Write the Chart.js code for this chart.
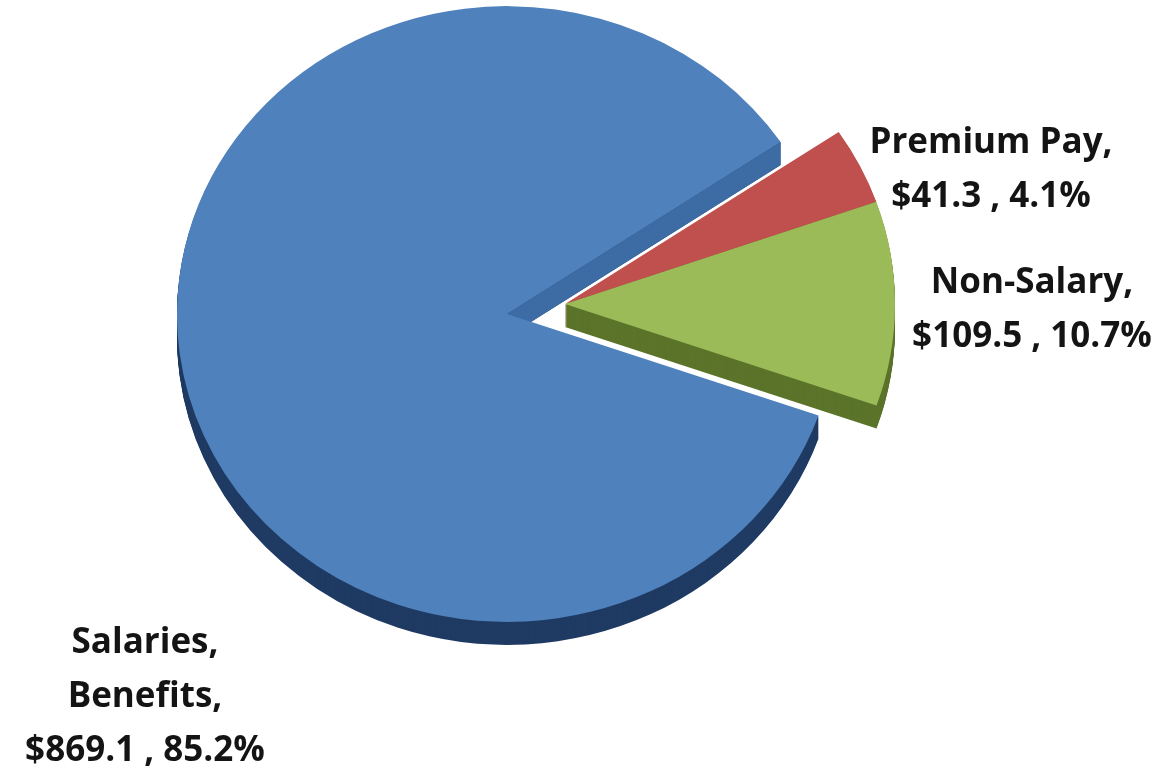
<!DOCTYPE html>
<html>
<head>
<meta charset="utf-8">
<script src="https://cdn.jsdelivr.net/npm/chart.js@4.4.0/dist/chart.umd.min.js"></script>
<style>
  html, body { margin: 0; padding: 0; background: #fff; }
  #wrap { width: 1172px; height: 771px; position: relative; }
</style>
</head>
<body>
<div id="wrap"><canvas id="budget-chart"></canvas></div>
<script>
const categories = ['Salaries, Benefits', 'Premium Pay', 'Non-Salary'];
const amounts = [869.1, 41.3, 109.5];
const percents = [85.2, 4.1, 10.7];

const topColors = ['#4f81bd', '#c0504d', '#9bbb59'];
const sideColors = ['#1f3b63', '#8c3330', '#5b742a'];
const cutFaceColors = ['#3d6ba4', null, null];

// "Salaries, Benefits" -> ["Salaries,", "Benefits,", "$869.1 , 85.2%"]
function labelLines(i) {
  const words = categories[i].split(', ').map(w => w + ',');
  words.push('$' + amounts[i].toFixed(1) + ' , ' + percents[i].toFixed(1) + '%');
  return words;
}

// paints a copy of an arc element in another colour, squashed into an ellipse
function paintArc(ctx, arc, color, dx, dy, o) {
  const copy = Object.assign(Object.create(Object.getPrototypeOf(arc)), arc);
  copy.options = Object.assign({}, arc.options, { backgroundColor: color, borderColor: color });
  ctx.save();
  ctx.translate(dx, o.centerY + dy);
  ctx.scale(1, o.tilt);
  ctx.translate(0, -arc.y);
  copy.draw(ctx);
  ctx.restore();
}

const pie3d = {
  id: 'pie3d',
  beforeDatasetsDraw(chart, args, o) {
    const ctx = chart.ctx;
    const arcs = chart.getDatasetMeta(0).data;
    arcs.forEach((arc, i) => {
      const [sx, sy] = o.shift[i];
      for (let d = o.depth; d >= 1; d--) {
        paintArc(ctx, arc, sideColors[i], sx, sy + d, o);
      }
      if (cutFaceColors[i]) {
        // flat face along the end edge of the slice
        const px = arc.x + sx, py = o.centerY + sy;
        const ex = px + Math.cos(arc.endAngle) * arc.outerRadius;
        const ey = py + Math.sin(arc.endAngle) * arc.outerRadius * o.tilt;
        ctx.save();
        ctx.fillStyle = cutFaceColors[i];
        ctx.beginPath();
        ctx.moveTo(px, py);
        ctx.lineTo(ex, ey);
        ctx.lineTo(ex, ey + o.depth);
        ctx.lineTo(px, py + o.depth);
        ctx.closePath();
        ctx.fill();
        ctx.restore();
      }
      paintArc(ctx, arc, topColors[i], sx, sy, o);
    });
    return false;
  }
};

const sliceLabels = {
  id: 'sliceLabels',
  afterDraw(chart, args, o) {
    const ctx = chart.ctx;
    ctx.save();
    ctx.font = o.font;
    ctx.fillStyle = o.color;
    ctx.textAlign = 'center';
    ctx.textBaseline = 'alphabetic';
    chart.data.labels.forEach((name, i) => {
      const a = o.anchors[i];
      labelLines(i).forEach((t, k) => ctx.fillText(t, a.x, a.y + k * o.lineHeight));
    });
    ctx.restore();
  }
};

const config = {
  type: 'pie',
  data: {
    labels: categories,
    datasets: [{
      data: amounts,
      backgroundColor: topColors,
      borderWidth: 0,
      hoverOffset: 0
    }]
  },
  options: {
    responsive: true,
    maintainAspectRatio: false,
    animation: false,
    events: [],
    rotation: 109.26,
    layout: { padding: { left: 177, right: 335, top: 0, bottom: 0 } },
    plugins: {
      legend: { display: false },
      tooltip: { enabled: false },
      pie3d: {
        centerY: 314,
        tilt: 0.933,
        depth: 23,
        shift: [[0, 0], [58, -10], [58, -10]]
      },
      sliceLabels: {
        font: 'bold 35px "Open Sans"',
        color: '#141414',
        lineHeight: 54,
        anchors: [{ x: 145, y: 653 }, { x: 991, y: 153 }, { x: 1032, y: 293 }]
      }
    }
  },
  plugins: [pie3d, sliceLabels]
};

let budgetChart = new Chart(document.getElementById('budget-chart'), config);
</script>
</body>
</html>
